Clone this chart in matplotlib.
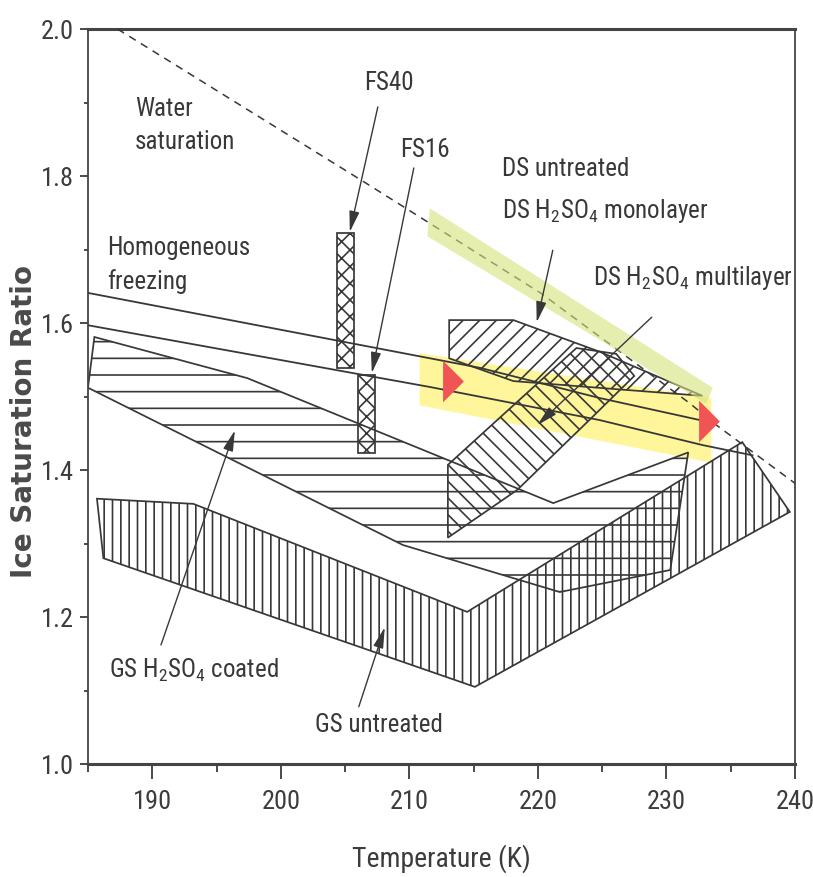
import matplotlib.pyplot as plt
from matplotlib import font_manager
from matplotlib.patches import Polygon
from matplotlib.ticker import MultipleLocator

# pick a condensed sans for the labels, whichever is installed
installed = font_manager.fontManager.ttflist
names = {f.name for f in installed}
narrow_family, narrow_stretch = 'Roboto', 'normal'
for fam in ['Liberation Sans Narrow', 'Arial Narrow', 'Roboto Condensed', 'Open Sans Condensed']:
    if fam in names:
        narrow_family = fam
        break
else:
    if any(f.name == 'DejaVu Sans' and f.stretch == 'condensed' for f in installed):
        narrow_family, narrow_stretch = 'DejaVu Sans', 'condensed'

plt.rcParams['font.family'] = [narrow_family, 'DejaVu Sans']
plt.rcParams['font.stretch'] = narrow_stretch
plt.rcParams['mathtext.fontset'] = 'custom'
plt.rcParams['mathtext.rm'] = f'{narrow_family}:stretch={narrow_stretch}'
plt.rcParams['hatch.linewidth'] = 1.2

ink = '#383838'

# water saturation (dashed) and the two homogeneous freezing limits
water_T = [187.3, 206.2, 220.2, 231.8, 233.9, 240.0]
water_S = [2.0, 1.795, 1.641, 1.491, 1.461, 1.382]
hom_upper_T = [185.0, 215.5, 224.8, 232.6]
hom_upper_S = [1.641, 1.539, 1.498, 1.468]
hom_lower_T = [185.0, 211.6, 224.8, 232.8, 236.7]
hom_lower_S = [1.597, 1.513, 1.468, 1.434, 1.420]

# onset regions
gs_coated_T = [185.5, 197.4, 221.2, 231.7, 230.3, 221.7, 209.5, 185.0]
gs_coated_S = [1.581, 1.525, 1.355, 1.424, 1.264, 1.234, 1.298, 1.512]
gs_untreated_T = [185.7, 193.2, 214.5, 235.9, 239.6, 215.1, 186.2]
gs_untreated_S = [1.361, 1.354, 1.207, 1.438, 1.343, 1.105, 1.280]
ds_untreated_T = [213.1, 218.1, 224.8, 232.8, 226.1, 218.1, 213.1]
ds_untreated_S = [1.604, 1.604, 1.561, 1.501, 1.510, 1.521, 1.552]
ds_multi_T = [213.0, 213.0, 223.0, 226.1, 227.5, 224.0, 218.4]
ds_multi_S = [1.308, 1.407, 1.566, 1.558, 1.528, 1.468, 1.373]
fs40_T = [204.4, 205.7]
fs40_S = [1.539, 1.722]
fs16_T = [206.0, 207.3]
fs16_S = [1.423, 1.529]

# highlighted bands and the two marked points
yellow_T = [210.8, 233.5, 233.5, 210.8]
yellow_S = [1.559, 1.498, 1.410, 1.488]
green_T = [211.6, 233.6, 233.1, 211.4]
green_S = [1.756, 1.512, 1.490, 1.718]
marker_T = [213.4, 233.3]
marker_S = [1.521, 1.467]

fig = plt.figure(figsize=(8.13, 8.77), dpi=100)
ax = fig.add_axes([0.1082, 0.1288, 0.8696, 0.8381])


def region(T, S, hatch, z=2):
    p = Polygon(list(zip(T, S)), closed=True, facecolor='none', edgecolor=ink,
                hatch=hatch, lw=1.25, zorder=z)
    ax.add_patch(p)


def box(T, S, hatch):
    region([T[0], T[1], T[1], T[0]], [S[0], S[0], S[1], S[1]], hatch)


ax.add_patch(Polygon(list(zip(yellow_T, yellow_S)), closed=True, facecolor='#fff59a',
                     edgecolor='none', zorder=1))

region(gs_coated_T, gs_coated_S, '-')
region(gs_untreated_T, gs_untreated_S, '||')
region(ds_untreated_T, ds_untreated_S, '//')
region(ds_multi_T, ds_multi_S, '\\\\')
box(fs40_T, fs40_S, 'xx')
box(fs16_T, fs16_S, 'xx')

ax.plot(water_T, water_S, color=ink, lw=1.1, ls=(0, (5, 4)), zorder=3)
ax.plot(hom_upper_T, hom_upper_S, color=ink, lw=1.3, zorder=3)
ax.plot(hom_lower_T, hom_lower_S, color=ink, lw=1.3, zorder=3)

tri = [(-0.5, 1), (-0.5, -1), (0.5, 0)]
ax.plot(marker_T, marker_S, ls='none', marker=tri, ms=30, color='#f05454',
        mec='none', zorder=4)

ax.add_patch(Polygon(list(zip(green_T, green_S)), closed=True, facecolor='#d4e17b',
                     edgecolor='none', alpha=0.6, zorder=5))

# labels
labels = [
    ('Water\nsaturation', 188.65, 1.869),
    ('Homogeneous\nfreezing', 186.5, 1.679),
    ('FS40', 206.5, 1.927),
    ('FS16', 209.3, 1.835),
    ('DS untreated', 217.2, 1.810),
    ('DS H$_2$SO$_4$ monolayer', 217.2, 1.752),
    ('DS H$_2$SO$_4$ multilayer', 224.3, 1.661),
    ('GS H$_2$SO$_4$ coated', 186.6, 1.127),
    ('GS untreated', 202.7, 1.053),
]
for txt, t, s in labels:
    ax.text(t, s, txt, fontsize=18, color=ink, ha='left', va='center',
            linespacing=1.5, zorder=6)

# arrows: tail -> tip
arrows = [
    ((207.55, 1.894), (205.37, 1.724)),
    ((210.35, 1.811), (207.08, 1.532)),
    ((221.16, 1.699), (219.91, 1.601)),
    ((228.86, 1.608), (219.95, 1.461)),
    ((190.68, 1.162), (196.43, 1.454)),
    ((206.07, 1.078), (208.09, 1.186)),
]
for tail, tip in arrows:
    ax.annotate('', xy=tip, xytext=tail, zorder=6,
                arrowprops=dict(arrowstyle='-|>,head_length=0.9,head_width=0.22',
                                mutation_scale=14, lw=1.0, color=ink,
                                shrinkA=0, shrinkB=0))

ax.set_xlim(185, 240)
ax.set_ylim(1.0, 2.0)
ax.xaxis.set_major_locator(MultipleLocator(10))
ax.xaxis.set_minor_locator(MultipleLocator(5))
ax.yaxis.set_major_locator(MultipleLocator(0.2))
ax.yaxis.set_minor_locator(MultipleLocator(0.1))

for side in ['top', 'bottom']:
    ax.spines[side].set_linewidth(2.2)
for side in ['left', 'right']:
    ax.spines[side].set_linewidth(1.3)
for sp in ax.spines.values():
    sp.set_color('#444444')

ax.tick_params(axis='x', which='major', length=11, width=1.3, pad=8, labelsize=19,
               colors='#3c3c3c')
ax.tick_params(axis='x', which='minor', length=6, width=1.3, colors='#3c3c3c')
ax.tick_params(axis='y', which='major', length=6, width=1.3, pad=4, labelsize=19,
               colors='#3c3c3c')
ax.tick_params(axis='y', which='minor', length=3, width=1.3, colors='#3c3c3c')

ax.set_xlabel('Temperature (K)', fontsize=20, color='#3c3c3c', va='center')
ax.xaxis.set_label_coords(0.5, -0.128)
ax.set_ylabel('Ice Saturation Ratio', fontsize=20, family='DejaVu Sans',
              stretch='normal', fontweight='bold', color='#4a4a4a', va='center')
ax.yaxis.set_label_coords(-0.0905, 0.4667)

fig.savefig('out.png', dpi=100)
